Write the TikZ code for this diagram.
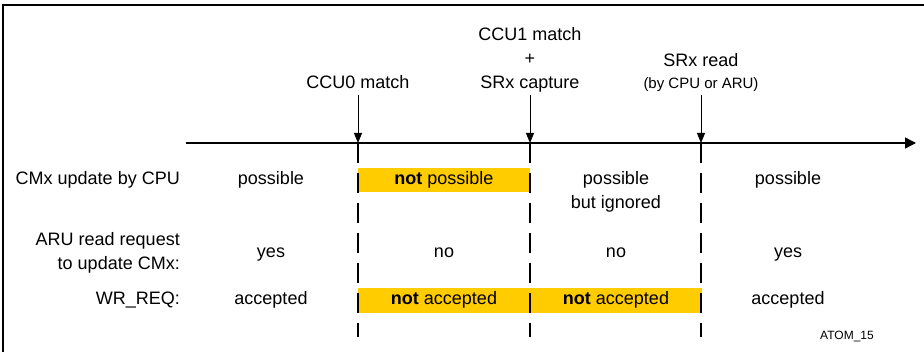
\documentclass[tikz,border=0pt]{standalone}
\usepackage{fontspec}
\setmainfont{Liberation Sans}
\usetikzlibrary{positioning, arrows.meta}
\definecolor{hiyellow}{HTML}{FFCC00}

\begin{document}
\begin{tikzpicture}[x=1pt, y=-1pt, font=\fontsize{18}{24}\selectfont,
    evt/.style={align=center, inner xsep=0pt, inner ysep=6pt, text depth=0pt, anchor=south},
    cell/.style={align=center, inner sep=0pt, anchor=base},
    rowlbl/.style={align=right, inner sep=0pt, anchor=base east},
    hibox/.style={fill=hiyellow, draw=none},
    marker/.style={-{Triangle[length=10pt, width=8pt]}, line width=0.9pt},
    phase/.style={line width=1.8pt, dash pattern=on 20pt off 10pt}]
    \useasboundingbox (0,0) rectangle (924,352);
    \draw[line width=1.2pt] (3,352) -- (3,5) -- (924,5);
    %Highlighted phases
    \fill[hibox] (358,168) rectangle (530,192);
    \fill[hibox] (358,288) rectangle (702,313);
    %Time axis
    \coordinate (axs) at (186,143);
    \coordinate (axe) at (916,143);
    \draw[line width=1.3pt, -{Triangle[length=11pt, width=11pt]}] (axs) -- (axe);
    \foreach \n/\x in {t0/358, t1/530, t2/701} {
        \coordinate (\n) at (\x,143);
        \coordinate (b\n) at (\x,337);
        \draw[phase] (\n) -- (b\n);
    }
    %Events
    \node[evt] (ccu0) at (358,95) {CCU0 match};
    \node[evt] (ccu1) at (530,95) {CCU1 match\\+\\SRx capture};
    \node[evt] (srx) at (701,95) {SRx read\\[-2pt]{\fontsize{15}{16}\selectfont(by CPU or ARU)}};
    \draw[marker] (ccu0) -- (t0);
    \draw[marker] (ccu1) -- (t1);
    \draw[marker] (srx) -- (t2);
    %Row labels
    \node[rowlbl] (cmx) at (180,185) {CMx update by CPU};
    \node[rowlbl] (aru) at (180,270) {ARU read request\\to update CMx:};
    \node[rowlbl] (wrq) at (180,305) {WR\_REQ:};
    %Row 1
    \node[cell] (cmxa) at (271,185) {possible};
    \node[cell] (cmxb) at (444,185) {\textbf{not} possible};
    \node[cell] (cmxc) at (616,209) {possible\\but ignored};
    \node[cell] (cmxd) at (788,185) {possible};
    %Row 2
    \node[cell] (arua) at (271,258) {yes};
    \node[cell] (arub) at (444,258) {no};
    \node[cell] (aruc) at (616,258) {no};
    \node[cell] (arud) at (788,258) {yes};
    %Row 3
    \node[cell] (wrqa) at (271,305) {accepted};
    \node[cell] (wrqb) at (444,305) {\textbf{not} accepted};
    \node[cell] (wrqc) at (616,305) {\textbf{not} accepted};
    \node[cell] (wrqd) at (788,305) {accepted};
    \node[cell, font=\fontsize{12}{14}\selectfont] (fig) at (847,340) {ATOM\_15};
\end{tikzpicture}
\end{document}
